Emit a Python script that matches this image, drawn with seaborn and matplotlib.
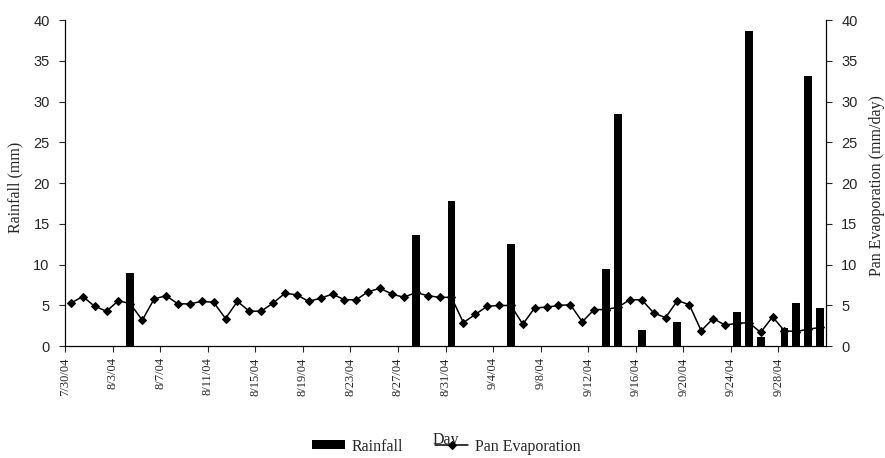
"""
Daily rainfall (bars) and pan evaporation (line), 30 Jul - 1 Oct 2004.
"""

import numpy as np
import pandas as pd
import seaborn as sns
import matplotlib.pyplot as plt

# Data, one value per day starting 7/30/04
START_DATE = "2004-07-30"

pan_evaporation = [
    5.3, 6.1, 4.9, 4.3, 5.6, 5.2, 3.2, 5.8, 6.2, 5.2,
    5.2, 5.5, 5.4, 3.4, 5.5, 4.3, 4.3, 5.3, 6.5, 6.3,
    5.5, 5.9, 6.4, 5.7, 5.7, 6.7, 7.1, 6.4, 6.0, 6.6,
    6.2, 6.0, 6.0, 2.9, 3.9, 4.9, 5.0, 5.0, 2.7, 4.7,
    4.8, 5.0, 5.1, 3.0, 4.5, 4.5, 4.8, 5.7, 5.7, 4.1,
    3.5, 5.6, 5.1, 1.9, 3.4, 2.6, 2.8, 2.9, 1.7, 3.6,
    1.9, 1.8, 2.1, 2.3,
]

# rainy days only (date -> mm), every other day is dry
rain_dates = [
    "2004-08-04", "2004-08-28", "2004-08-31", "2004-09-05", "2004-09-13",
    "2004-09-14", "2004-09-16", "2004-09-19", "2004-09-24", "2004-09-25",
    "2004-09-26", "2004-09-28", "2004-09-29", "2004-09-30", "2004-10-01",
]
rain_mm = [
    9.0, 13.7, 17.8, 12.5, 9.5,
    28.5, 2.0, 3.0, 4.2, 38.7,
    1.1, 2.2, 5.3, 33.1, 4.7,
]

tick_labels = [
    "7/30/04", "8/3/04", "8/7/04", "8/11/04", "8/15/04", "8/19/04",
    "8/23/04", "8/27/04", "8/31/04", "9/4/04", "9/8/04", "9/12/04",
    "9/16/04", "9/20/04", "9/24/04", "9/28/04",
]
y_ticks = [0, 5, 10, 15, 20, 25, 30, 35, 40]


def build_frame():
    """One row per day: day number, rainfall and pan evaporation."""
    dates = pd.date_range(START_DATE, periods=len(pan_evaporation), freq="D")
    rain = pd.Series(rain_mm, index=pd.to_datetime(rain_dates))
    df = pd.DataFrame({"date": dates, "evap": pan_evaporation})
    df["rain"] = rain.reindex(dates).fillna(0).values
    # days since start, plotted at the middle of each day
    df["day"] = (df["date"] - df["date"].iloc[0]).dt.days + 0.5
    return df


def main():
    df = build_frame()
    n_days = len(df)

    sns.set_style("ticks")
    plt.rcParams["font.family"] = ["Liberation Sans", "DejaVu Sans"]
    serif = ["Liberation Serif", "DejaVu Serif"]

    fig = plt.figure(figsize=(8.85, 4.58), dpi=100)
    ax = fig.add_axes([0.0734, 0.244, 0.86, 0.712])

    # Rainfall bars on the left axis
    sns.barplot(
        data=df, x="day", y="rain", native_scale=True, width=0.66,
        color="black", saturation=1, linewidth=0, label="Rainfall", ax=ax,
    )

    # Pan evaporation on the right axis
    ax2 = ax.twinx()
    sns.lineplot(
        data=df, x="day", y="evap", ax=ax2, color="black", marker="D",
        markersize=4.5, markeredgecolor="black", linewidth=1.1,
        label="Pan Evaporation",
    )

    for a in (ax, ax2):
        if a.get_legend() is not None:
            a.get_legend().remove()
        a.set_ylim(0, 40)
        a.set_yticks(y_ticks)
        a.set_xlim(0, n_days)
        a.set_xlabel("")
        a.set_ylabel("")
        a.spines["top"].set_visible(False)
        for s in a.spines.values():
            s.set_linewidth(0.8)
            s.set_color("black")
        a.tick_params(axis="y", length=4, width=0.8, labelsize=10.5, pad=7)

    ax.set_xticks(np.arange(0, n_days - 3, 4))
    ax.set_xticklabels(tick_labels, rotation=90, fontfamily=serif, fontsize=9)
    ax.tick_params(axis="x", length=4, width=0.8, pad=4)

    # Axis titles
    fig.text(0.017, 0.59, "Rainfall (mm)", rotation=90, ha="center",
             va="center", family=serif, fontsize=11.5)
    fig.text(0.991, 0.595, "Pan Evaoporation (mm/day)", rotation=90,
             ha="center", va="center", family=serif, fontsize=11.5)
    fig.text(0.504, 0.039, "Day", ha="center", va="center",
             family=serif, fontsize=11.5)

    # Legend along the bottom
    h1, l1 = ax.get_legend_handles_labels()
    h2, l2 = ax2.get_legend_handles_labels()
    fig.legend(
        h1 + h2, l1 + l2, loc="center", bbox_to_anchor=(0.504, 0.025),
        ncol=2, frameon=False, prop={"family": serif, "size": 11.5},
        handlelength=2.1, handleheight=0.5, handletextpad=0.4,
        columnspacing=2.0, borderpad=0, borderaxespad=0,
    )

    fig.savefig("out.png", dpi=100, facecolor="white")
    plt.close(fig)


if __name__ == "__main__":
    main()
